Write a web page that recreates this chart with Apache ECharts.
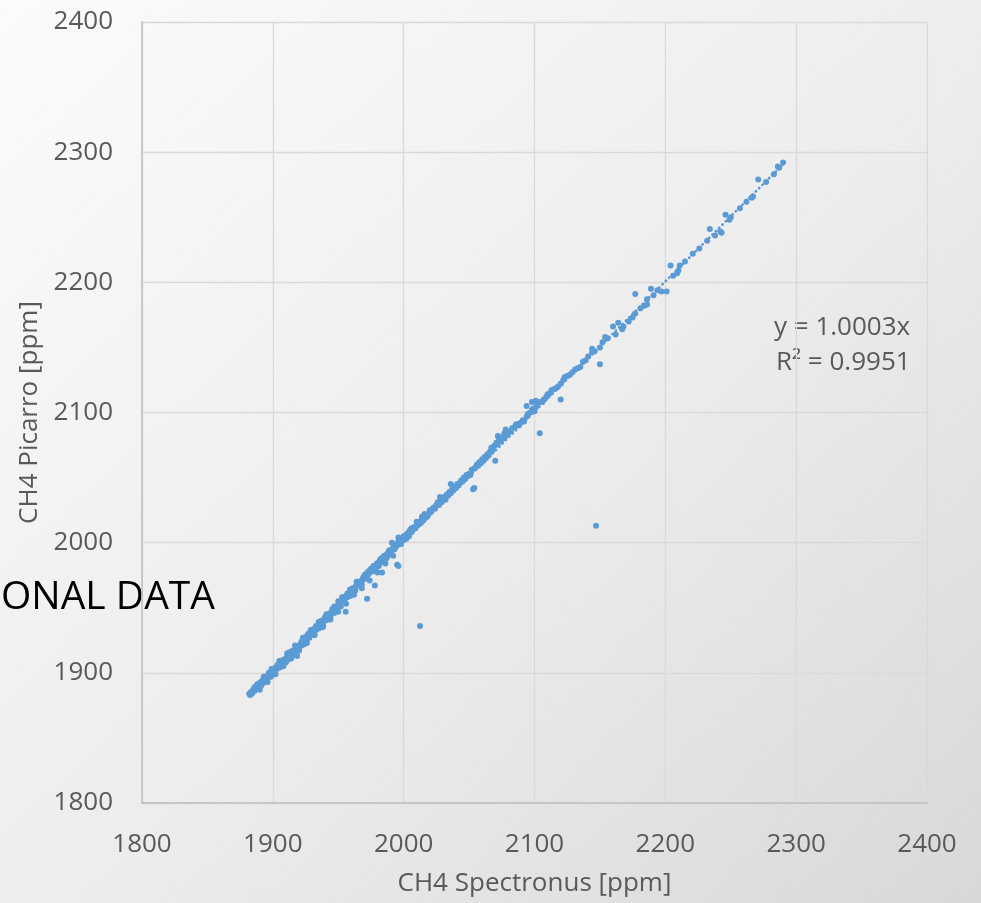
<!DOCTYPE html>
<html>
<head>
<meta charset="utf-8">
<script src="https://cdn.jsdelivr.net/npm/echarts@6/dist/echarts.min.js"></script>
<style>
html,body{margin:0;padding:0;}
#chart{width:981px;height:903px;background:linear-gradient(to bottom right,#fbfbfb 0%,#ececec 55%,#d8d8d8 100%);}
</style>
</head>
<body>
<div id="chart"></div>
<script>
// CH4 Spectronus [ppm] (x) and CH4 Picarro [ppm] (y)
const spectronus = [
1882,1882.5,1883,1884,1884.5,1885,1886,1886.5,1887,1888,
1888,1889,1889.5,1890,1891,1891,1892,1892.5,1893,1894,
1894,1895,1895.5,1896,1897,1897,1898,1898.5,1899,1900,
1900,1901,1901.5,1902,1903,1903.5,1904,1905,1905,1906,
1906.5,1907,1908,1908,1909,1910,1910,1911,1911.5,1912,
1913,1913,1914,1914.5,1915,1916,1916,1917,1918,1918.5,
1918,1919,1920,1920,1921,1922,1922,1923,1924,1924,
1925,1925.5,1926,1927,1927,1928,1928.5,1929,1930,1930,
1931,1931.5,1932,1933,1933,1934,1935,1935,1936,1937,
1937,1938,1938.5,1939,1940,1940,1941,1942,1942,1943,
1944,1944,1945,1945.5,1946,1947,1947,1948,1949,1949,
1950,1950,1951,1952,1952,1953,1954,1954,1955,1955.7,
1956,1957,1957,1958,1959,1959,1960,1961,1961,1962,
1963,1963,1964,1964,1965,1966,1966,1967,1968,1968,
1969,1970,1970,1971,1972,1972,1973,1973,1974,1975,
1975,1976,1977,1977,1978,1978,1979,1979.5,1980,1981,
1981,1982,1983,1983.5,1984,1985,1985,1986,1987,1987,
1988,1989,1989,1990,1991,1991,1992,1993,1993,1994,
1995,1995,1996,1996,1997,1998,1998,1999,2000,2000,
2001,2002,2002,2003,2004,2004,2005,2006,2006,2007,
2008,2009,2010,2010,2011,2012,2012.5,2013,2014,2014,
2015,2016,2017,2018,2019,2020,2020,2021,2022,2023,
2024,2025,2026,2027,2027.8,2028,2029,2030,2031,2032,
2033,2034,2035,2036,2036,2037,2038,2039,2040,2041,
2042,2043,2044,2045,2046,2047,2048,2049,2050,2051,
2052,2053,2054,2054,2055,2056,2057,2058,2059,2060,
2061,2062,2063,2064,2065,2066,2067,2068,2069,2070,
2070,2071,2072,2072,2073,2074,2075,2076,2077,2078,
2078,2079,2080,2082,2083,2085,2086,2088,2089,2091,
2092,2094,2094,2095,2097,2098,2098,2099,2100,2101,
2101,2102,2104,2104,2106,2107,2109,2110,2112,2113,
2115,2117,2118,2120,2120,2122,2123,2125,2127,2129,
2131,2133,2135,2137,2139,2141,2144,2144,2146,2147,
2150,2150,2152,2154,2156,2160,2162,2164,2167,2168,
2172,2175,2177,2177,2181,2184,2186,2186,2189,2191,
2194,2197,2201,2204,2206,2209,2210,2211,2215,2221,
2226,2232,2234,2238,2242,2243,2246,2249,2250,2257,
2262,2266,2267,2271,2277,2283,2286,2287,2290,
1886,1890,1893,1896,1899,1902,1905,1908,1911,1914,
1917,1920,1923,1926,1929,1932,1935,1938,1941,1944,
1947,1950,1953,1956,1959,1962,1965,1968,1971,1974,
1977,1980,1983,1986,1989,1992,1996,2005,2016,2026
];
const picarro = [
1884,1883,1885,1884,1886,1887,1886,1888,1889,1888,
1891,1890,1892,1891,1893,1890,1894,1892,1895,1894,
1897,1896,1894,1898,1897,1900,1899,1897,1901,1900,
1903,1902,1900,1904,1903,1906,1905,1904,1907,1906,
1909,1908,1907,1910,1909,1911,1908,1913,1910,1912,
1914,1916,1913,1915,1917,1916,1914,1918,1917,1913,
1920,1919,1921,1918,1922,1921,1924,1923,1925,1922,
1926,1928,1925,1928,1930,1927,1929,1931,1930,1933,
1932,1929,1934,1933,1936,1935,1934,1937,1938,1937,
1940,1939,1936,1941,1940,1943,1942,1941,1945,1944,
1946,1943,1947,1949,1948,1946,1950,1949,1951,1948,
1952,1955,1953,1954,1951,1956,1955,1958,1957,1947,
1959,1958,1961,1960,1962,1959,1963,1962,1965,1964,
1966,1963,1967,1970,1968,1967,1970,1969,1971,1968,
1973,1972,1975,1973,1975,1957,1976,1978,1977,1978,
1980,1979,1981,1978,1967,1982,1981,1984,1983,1985,
1982,1987,1985,1977,1988,1987,1990,1989,1991,1988,
1992,1994,1991,1993,1995,2000,1996,1995,1998,1997,
1999,1983,1982,2001,2000,2002,1999,2003,2002,2005,
2004,2003,2006,2007,2005,2008,2009,2008,2011,2010,
2012,2011,2013,2016,2014,2016,1936,2015,2018,2020,
2017,2019,2021,2020,2022,2023,2025,2024,2026,2027,
2026,2029,2030,2029,2035,2032,2031,2034,2035,2033,
2037,2036,2039,2045,2038,2041,2040,2043,2042,2045,
2044,2046,2048,2047,2050,2049,2052,2051,2053,2052,
2056,2041,2042,2057,2058,2060,2059,2062,2061,2064,
2063,2066,2065,2068,2067,2070,2073,2071,2074,2063,
2075,2077,2082,2076,2079,2078,2081,2080,2084,2087,
2082,2085,2084,2086,2088,2089,2091,2090,2092,2094,
2093,2097,2105,2099,2100,2108,2102,2103,2101,2109,
2104,2106,2084,2108,2108,2110,2112,2114,2115,2117,
2118,2119,2120,2110,2122,2125,2127,2128,2129,2131,
2133,2134,2135,2139,2140,2143,2146,2149,2147,2013,
2150,2137,2154,2158,2157,2166,2160,2169,2164,2166,
2170,2173,2176,2191,2180,2182,2183,2187,2195,2190,
2194,2193,2193,2213,2205,2207,2209,2213,2216,2222,
2226,2232,2241,2236,2239,2238,2252,2248,2250,2257,
2262,2265,2266,2279,2277,2283,2289,2288,2292,
1889,1887,1897,1893,1903,1899,1909,1905,1915,1911,
1921,1917,1927,1923,1933,1929,1939,1935,1945,1941,
1951,1947,1958,1953,1964,1960,1970,1965,1976,1971,
1982,1977,1988,1984,1994,1990,2004,2010,2022,2031
];
// linear trendline y = 1.0003x across the data range
const trendX = [1882, 2290];
const trendY = [1882.6, 2290.7];
const tickValues = [1800, 1900, 2000, 2100, 2200, 2300, 2400];
const trendLabel = ['y = 1.0003x', 'R\u00b2 = 0.9951'];

const pts = spectronus.map((x, i) => [x, picarro[i]]);
const trend = trendX.map((x, i) => [x, trendY[i]]);

const FONT = '"Open Sans", "Noto Sans", sans-serif';
const TXT = '#595959';
const FS = 26;
const chart = echarts.init(document.getElementById('chart'), null, {renderer: 'canvas'});
chart.setOption({
  backgroundColor: 'transparent',
  animation: false,
  grid: {left: 142, right: 54, top: 22, bottom: 100, containLabel: false},
  xAxis: {
    type: 'value', min: tickValues[0], max: tickValues[tickValues.length - 1], interval: 100,
    name: 'CH4 Spectronus [ppm]', nameLocation: 'middle', nameGap: 68,
    nameTextStyle: {color: TXT, fontSize: FS, fontFamily: FONT},
    axisLine: {show: true, lineStyle: {color: '#BFBFBF', width: 1.5}},
    axisTick: {show: false},
    axisLabel: {color: TXT, fontSize: FS, fontFamily: FONT, margin: 29, formatter: v => String(v)},
    splitLine: {show: true, lineStyle: {color: '#D9D9D9', width: 1.3}}
  },
  yAxis: {
    type: 'value', min: tickValues[0], max: tickValues[tickValues.length - 1], interval: 100,
    name: 'CH4 Picarro [ppm]', nameLocation: 'middle', nameGap: 97, nameRotate: 90,
    nameTextStyle: {color: TXT, fontSize: FS, fontFamily: FONT},
    axisLine: {show: true, lineStyle: {color: '#BFBFBF', width: 1.5}},
    axisTick: {show: false},
    axisLabel: {color: TXT, fontSize: FS, fontFamily: FONT, margin: 29, formatter: v => String(v)},
    splitLine: {show: true, lineStyle: {color: '#D9D9D9', width: 1.3}}
  },
  series: [
    {
      type: 'scatter', data: pts, symbol: 'circle', symbolSize: 6,
      itemStyle: {color: '#5B9BD5', opacity: 1}, z: 3
    },
    {
      type: 'line', data: trend, showSymbol: false, symbol: 'none',
      lineStyle: {color: '#5B9BD5', width: 2.6, type: [0.5, 4.2], cap: 'round'}, z: 2
    }
  ],
  graphic: [
    {type: 'text', left: 774, top: 315, style: {text: trendLabel[0], fill: TXT, font: FS + 'px ' + FONT}},
    {type: 'text', left: 776, top: 350, style: {text: trendLabel[1], fill: TXT, font: FS + 'px ' + FONT}},
    {type: 'text', left: 1, top: 578, style: {text: 'ONAL DATA', fill: '#000000', font: '39px ' + FONT}}
  ]
});
</script>
</body>
</html>
